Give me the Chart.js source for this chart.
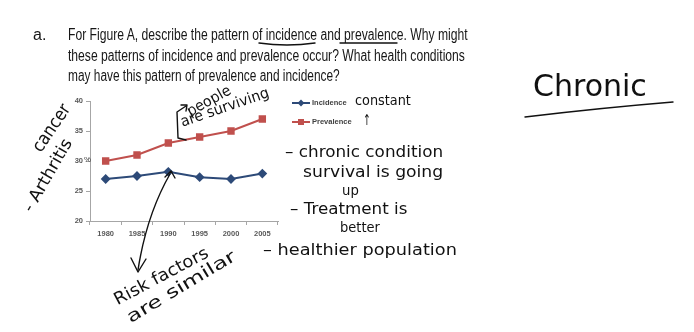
<!DOCTYPE html>
<html>
<head>
<meta charset="utf-8">
<script src="https://cdn.jsdelivr.net/npm/chart.js@4.4.1/dist/chart.umd.min.js"></script>
<style>
  body { margin: 0; background: #fff; }
  #page { position: relative; width: 694px; height: 332px; overflow: hidden; background: #fff; }
  .q { position: absolute; font-family: "Liberation Sans", Arial, sans-serif; font-size: 16px; line-height: 20px; color: #161616; white-space: nowrap; transform-origin: left center; }
  .hw { position: absolute; font-family: "DejaVu Sans", sans-serif; color: #111; white-space: nowrap; transform-origin: left center; line-height: 1; }
  #chartBox { position: absolute; left: 60px; top: 88px; width: 230px; height: 165px; }
  .leg { position: absolute; font-family: "Liberation Sans", Arial, sans-serif; font-size: 7.5px; font-weight: bold; color: #404040; white-space: nowrap; }
  .legline { position: absolute; height: 2px; }
  svg { position: absolute; left: 0; top: 0; }
</style>
</head>
<body>
<div id="page">
  <div id="chartBox"><canvas id="figA" width="230" height="165"></canvas></div>
  <div class="leg" style="left:84px;top:155px;font-weight:normal;font-size:8px;">%</div>
  <svg width="694" height="332" fill="none" stroke="#111" stroke-width="1.4" stroke-linecap="round" stroke-linejoin="round">
    <path d="M259,43 Q287,47 315,43"/>
    <path d="M340,43 L397,43"/>
    <path d="M525,117 Q600,108 673,102"/>
    <path d="M170,174 C158,195 145,225 138,270"/>
    <path d="M131,258 L138,272 L146,259"/>
    <path d="M165,177 L171,171 L175,178"/>
    <path d="M186,140 L178,138 L177,112 L186,106"/>
    <path d="M181,105 L187,105 L186,111"/>
  </svg>
</div>
<script>
const years = ['1980', '1985', '1990', '1995', '2000', '2005'];
const incidence = [27.0, 27.5, 28.2, 27.3, 27.0, 27.9];
const prevalence = [30, 31, 33, 34, 35, 37];
const yMin = 20, yMax = 40, yStep = 5;

const questionLines = [
  { text: 'a.', x: 33, y: 35, w: 0 },
  { text: 'For Figure A, describe the pattern of incidence and prevalence. Why might', x: 68, y: 35, w: 400 },
  { text: 'these patterns of incidence and prevalence occur? What health conditions', x: 68, y: 56, w: 397 },
  { text: 'may have this pattern of prevalence and incidence?', x: 68, y: 76, w: 272 }
];

// handwritten notes: start point, target width, size, angle
const notes = [
  { text: 'Chronic', x: 533, y: 86, w: 114, size: 30, a: 0 },
  { text: 'cancer', x: 36, y: 150, w: 54, size: 18, a: -56 },
  { text: '- Arthritis', x: 27, y: 210, w: 82, size: 17, a: -60 },
  { text: 'people', x: 188, y: 112, w: 48, size: 15, a: -29 },
  { text: 'are surviving', x: 181, y: 122, w: 93, size: 15, a: -19 },
  { text: 'constant', x: 355, y: 100, w: 56, size: 14, a: 0 },
  { text: '\u2191', x: 363, y: 120, w: 8, size: 15, a: 0 },
  { text: '– chronic  condition', x: 285, y: 152, w: 158, size: 15, a: 0 },
  { text: 'survival  is  going', x: 303, y: 172, w: 140, size: 15, a: 0 },
  { text: 'up', x: 342, y: 190, w: 17, size: 14, a: 0 },
  { text: '– Treatment  is', x: 290, y: 209, w: 117, size: 15, a: 0 },
  { text: 'better', x: 340, y: 227, w: 40, size: 14, a: 0 },
  { text: '– healthier  population', x: 263, y: 250, w: 194, size: 15, a: 0 },
  { text: 'Risk factors', x: 115, y: 300, w: 104, size: 17, a: -28 },
  { text: 'are similar', x: 128, y: 318, w: 124, size: 17, a: -31 }
];

const page = document.getElementById('page');

function placeText(item, cls, size) {
  const el = document.createElement('div');
  el.className = cls;
  el.textContent = item.text;
  if (size) el.style.fontSize = size + 'px';
  page.appendChild(el);
  el.style.left = item.x + 'px';
  el.style.top = (item.y - el.offsetHeight / 2) + 'px';
  let k = 1;
  if (item.w) k = item.w / el.offsetWidth;
  el.style.transform = 'rotate(' + (item.a || 0) + 'deg) scaleX(' + k + ')';
}

questionLines.forEach(l => placeText(l, 'q'));
notes.forEach(n => placeText(n, 'hw', n.size));

const axisGray = '#a6a6a6';
const tickFont = { family: 'Liberation Sans', size: 7.5, weight: 'bold' };

const chart = new Chart(document.getElementById('figA').getContext('2d'), {
  type: 'line',
  data: {
    labels: years,
    datasets: [
      {
        label: 'Incidence',
        data: incidence,
        borderColor: '#2d4a78',
        backgroundColor: '#2d4a78',
        borderWidth: 2,
        pointStyle: 'rectRot',
        pointRadius: 3.5,
        tension: 0
      },
      {
        label: 'Prevalence',
        data: prevalence,
        borderColor: '#c0504d',
        backgroundColor: '#c0504d',
        borderWidth: 2,
        pointStyle: 'rect',
        pointRadius: 3.8,
        tension: 0
      }
    ]
  },
  options: {
    responsive: false,
    animation: false,
    layout: { padding: { top: 13, right: 12, left: 0, bottom: 0 } },
    plugins: { legend: { display: false }, tooltip: { enabled: false } },
    scales: {
      x: {
        offset: true,
        grid: { display: true, offset: true, drawOnChartArea: false, drawTicks: true, tickLength: 4, color: axisGray },
        border: { color: axisGray },
        ticks: { color: '#595959', font: tickFont, padding: 4, maxRotation: 0 },
        afterFit: s => { s.height = 32; }
      },
      y: {
        min: yMin,
        max: yMax,
        grid: { display: true, drawOnChartArea: false, drawTicks: true, tickLength: 4, color: axisGray },
        border: { color: axisGray },
        ticks: { stepSize: yStep, color: '#595959', font: tickFont, padding: 3 },
        afterFit: s => { s.width = 30; }
      }
    }
  }
});

// legend beside the plot, built from the datasets
chart.data.datasets.forEach((ds, i) => {
  const y = 103 + i * 19;
  const line = document.createElement('div');
  line.className = 'legline';
  line.style.left = '292px';
  line.style.top = (y - 1) + 'px';
  line.style.width = '18px';
  line.style.background = ds.borderColor;
  page.appendChild(line);
  const mark = document.createElement('div');
  mark.className = 'legline';
  mark.style.left = '298px';
  mark.style.top = (y - 3) + 'px';
  mark.style.width = '6px';
  mark.style.height = '6px';
  mark.style.background = ds.borderColor;
  if (ds.pointStyle === 'rectRot') {
    mark.style.transform = 'rotate(45deg) scale(0.8)';
  }
  page.appendChild(mark);
  const lab = document.createElement('div');
  lab.className = 'leg';
  lab.textContent = ds.label;
  lab.style.left = '312px';
  lab.style.top = (y - 5) + 'px';
  page.appendChild(lab);
});
</script>
</body>
</html>
